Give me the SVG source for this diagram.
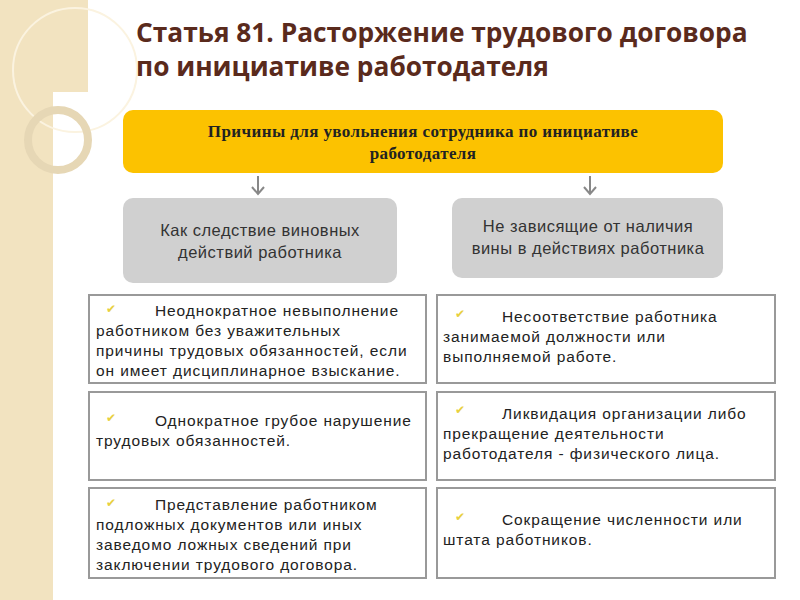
<svg xmlns="http://www.w3.org/2000/svg" width="800" height="600" viewBox="0 0 800 600">
<style>
.t{font-family:"Liberation Sans",Arial,sans-serif;font-size:15.5px;letter-spacing:0.9px;fill:#222}
.h{font-family:"Liberation Serif",serif;font-size:17px;font-weight:bold;letter-spacing:0.4px;fill:#222}
.g{font-family:"Liberation Sans",Arial,sans-serif;font-size:16.5px;letter-spacing:0.5px;fill:#333}
.box{fill:#fff;stroke:#999;stroke-width:2}
.gray{fill:#d0d0d0}
.ck{font-family:"DejaVu Sans",sans-serif;font-size:12px;fill:#e8d040}
.title{font-family:"Open Sans","Liberation Sans",sans-serif;font-size:26.3px;font-weight:bold;fill:#5a2a1c}
.cn{stroke:#888;stroke-width:2;fill:none}
</style>
<rect width="800" height="600" fill="#fff"/>
<g id="bg">
<rect x="0" y="0" width="88" height="92" fill="#f2e3c0"/>
<rect x="0" y="92" width="53" height="508" fill="#f2e3c0"/>
<circle cx="75" cy="70" r="62" fill="none" stroke="#fbf3e0" stroke-width="2"/>
<circle cx="58" cy="140" r="30" fill="none" stroke="#e6d7b5" stroke-width="8"/>
</g>
<g id="title">
<text class="title" x="136" y="42">Статья 81. Расторжение трудового договора</text>
<text class="title" x="136" y="76">по инициативе работодателя</text>
</g>
<g id="connectors">
<line class="cn" x1="258" y1="176" x2="258" y2="194"/>
<polyline class="cn" points="252,187 258,194 264,187"/>
<line class="cn" x1="590" y1="176" x2="590" y2="194"/>
<polyline class="cn" points="584,187 590,194 596,187"/>
</g>
<g id="root">
<rect x="123" y="110" width="600" height="63" rx="10" fill="#fcc200"/>
<text class="h" x="423" y="137" text-anchor="middle">Причины  для увольнения сотрудника по инициативе</text>
<text class="h" x="423" y="159" text-anchor="middle">работодателя</text>
</g>
<g id="left">
<rect class="gray" x="123" y="198" width="274" height="85" rx="10"/>
<text class="g" x="260" y="236" text-anchor="middle">Как следствие виновных</text>
<text class="g" x="260" y="258" text-anchor="middle">действий  работника</text>
</g>
<g id="right">
<rect class="gray" x="452" y="198" width="271" height="80" rx="10"/>
<text class="g" x="588" y="232" text-anchor="middle">Не зависящие от наличия</text>
<text class="g" x="588" y="254" text-anchor="middle">вины в действиях работника</text>
</g>
<g id="l1">
<rect class="box" x="89" y="295" width="337" height="88"/>
<text class="ck" x="106" y="313">✔</text>
<text class="t" x="96" y="316"><tspan x="155">Неоднократное  невыполнение</tspan><tspan x="96" dy="20">работником  без уважительных</tspan><tspan x="96" dy="20">причины трудовых обязанностей,  если</tspan><tspan x="96" dy="20">он имеет дисциплинарное  взыскание.</tspan></text>
</g>
<g id="l2">
<rect class="box" x="89" y="392" width="337" height="88"/>
<text class="ck" x="106" y="422">✔</text>
<text class="t" x="96" y="426"><tspan x="155">Однократное грубое нарушение</tspan><tspan x="96" dy="20">трудовых обязанностей.</tspan></text>
</g>
<g id="l3">
<rect class="box" x="89" y="488" width="337" height="90"/>
<text class="ck" x="106" y="507">✔</text>
<text class="t" x="96" y="510"><tspan x="155">Представление  работником</tspan><tspan x="96" dy="20">подложных документов или иных</tspan><tspan x="96" dy="20">заведомо ложных сведений при</tspan><tspan x="96" dy="20">заключении трудового договора.</tspan></text>
</g>
<g id="r1">
<rect class="box" x="437" y="295" width="338" height="88"/>
<text class="ck" x="455" y="318">✔</text>
<text class="t" x="443" y="322"><tspan x="502">Несоответствие  работника</tspan><tspan x="443" dy="20">занимаемой должности или</tspan><tspan x="443" dy="20">выполняемой работе.</tspan></text>
</g>
<g id="r2">
<rect class="box" x="437" y="392" width="338" height="88"/>
<text class="ck" x="455" y="414">✔</text>
<text class="t" x="443" y="419"><tspan x="502">Ликвидация организации либо</tspan><tspan x="443" dy="20">прекращение деятельности</tspan><tspan x="443" dy="20">работодателя   - физического лица.</tspan></text>
</g>
<g id="r3">
<rect class="box" x="437" y="488" width="338" height="90"/>
<text class="ck" x="455" y="521">✔</text>
<text class="t" x="443" y="525"><tspan x="502">Сокращение численности или</tspan><tspan x="443" dy="20">штата работников.</tspan></text>
</g>
</svg>
